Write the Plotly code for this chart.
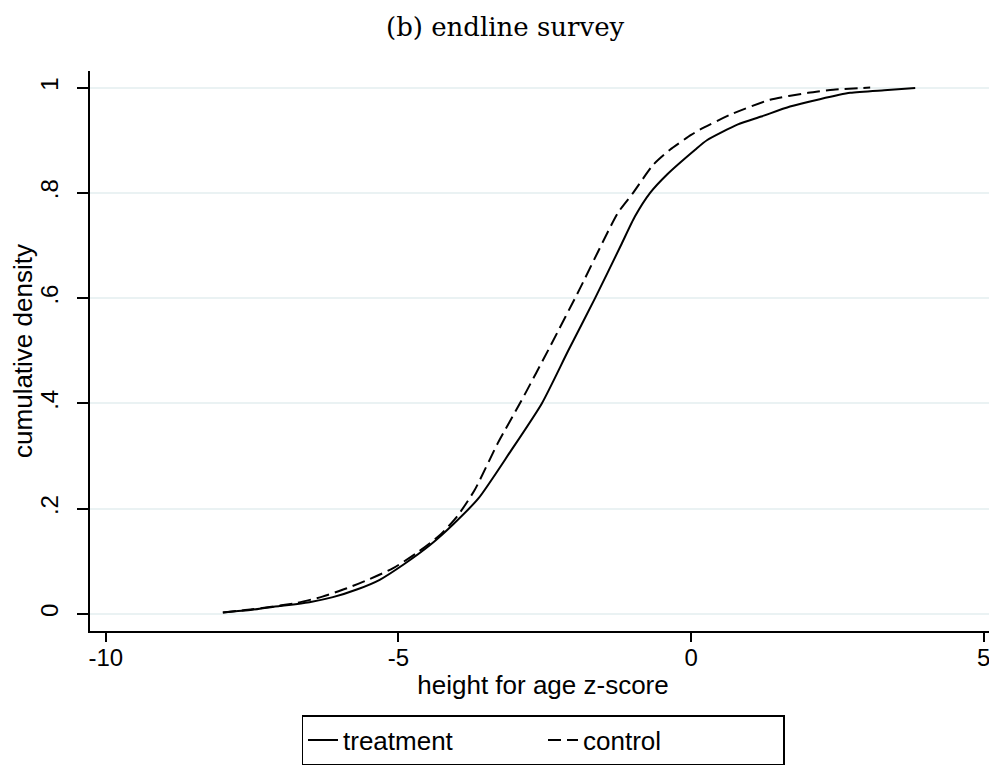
import plotly.graph_objects as go

# treatment (solid)
treat_x = [-8.0, -7.5, -7.03, -6.5, -6.12, -5.7, -5.32, -4.9, -4.46, -4.05, -3.63, -3.09, -2.55,
           -2.1, -1.64, -1.2, -0.96, -0.70, -0.41, 0.07, 0.27, 0.8, 1.2, 1.69, 2.2, 2.72, 3.3, 3.83]
treat_y = [0.003, 0.008, 0.015, 0.023, 0.032, 0.047, 0.065, 0.095, 0.131, 0.172, 0.22, 0.308, 0.40,
           0.50, 0.60, 0.70, 0.755, 0.80, 0.835, 0.882, 0.90, 0.93, 0.945, 0.964, 0.978, 0.99, 0.995, 0.999]

# control (dashed)
ctrl_x = [-8.0, -7.5, -6.74, -6.3, -5.88, -5.5, -5.09, -4.7, -4.29, -4.0, -3.7, -3.3, -2.9,
          -2.4, -1.9, -1.25, -0.99, -0.65, -0.36, 0.0, 0.15, 0.7, 1.35, 2.0, 2.43, 3.06]
ctrl_y = [0.003, 0.009, 0.021, 0.033, 0.049, 0.066, 0.087, 0.115, 0.150, 0.185, 0.235, 0.325, 0.405,
          0.51, 0.618, 0.762, 0.80, 0.853, 0.882, 0.91, 0.92, 0.95, 0.977, 0.99, 0.996, 1.0]

x_ticks = [-10, -5, 0, 5]
y_ticks = [0, 0.2, 0.4, 0.6, 0.8, 1.0]
y_tick_text = ["0", ".2", ".4", ".6", ".8", "1"]

SANS = "Liberation Sans"

fig = go.Figure()
fig.add_trace(go.Scatter(x=treat_x, y=treat_y, mode="lines", name="treatment",
                         line=dict(color="black", width=2, shape="spline", smoothing=0.6)))
fig.add_trace(go.Scatter(x=ctrl_x, y=ctrl_y, mode="lines", name="control",
                         line=dict(color="black", width=2, dash="13px,6px", shape="spline", smoothing=0.6)))

W, H = 989, 759
L, R, T = 82, 1, 63
PH = 560
B = H - T - PH

fig.update_layout(
    width=W, height=H,
    margin=dict(l=L, r=R, t=T, b=B),
    paper_bgcolor="white", plot_bgcolor="white",
    font=dict(family=SANS, size=24, color="black"),
    showlegend=True,
    legend=dict(orientation="h", x=0.5, xanchor="center", y=-(707 - (T + PH)) / PH, yanchor="top",
                bordercolor="black", borderwidth=1.5, font=dict(family=SANS, size=26),
                entrywidth=195, traceorder="normal"),
    annotations=[dict(text="(b) endline survey", xref="paper", yref="paper",
                      x=(497 - L) / 906, y=1 + (T - 19) / PH, yanchor="middle",
                      xanchor="center", showarrow=False,
                      font=dict(family="DejaVu Serif", size=26, color="black"))],
)

fig.update_xaxes(range=[-10.27, 5.21], tickvals=x_ticks, ticktext=[str(v) for v in x_ticks],
                 tickfont=dict(family=SANS, size=24), ticklabelstandoff=-5,
                 showline=True, linecolor="black", linewidth=1.5, ticks="outside", ticklen=9,
                 tickcolor="black", tickwidth=1.5, showgrid=False, zeroline=False,
                 title=dict(text="height for age z-score", standoff=6, font=dict(family=SANS, size=26)))
fig.update_yaxes(range=[-0.0323, 1.0315], tickvals=y_ticks, ticktext=y_tick_text, tickangle=-90,
                 tickfont=dict(family=SANS, size=24), ticklabelstandoff=10,
                 showline=True, linecolor="black", linewidth=1.5, ticks="outside", ticklen=11,
                 tickcolor="black", tickwidth=1.5, showgrid=True, gridcolor="#eaf2f3", gridwidth=1.5,
                 zeroline=False,
                 title=dict(text="cumulative density", standoff=0, font=dict(family=SANS, size=26)))

fig.write_html("out.html")
